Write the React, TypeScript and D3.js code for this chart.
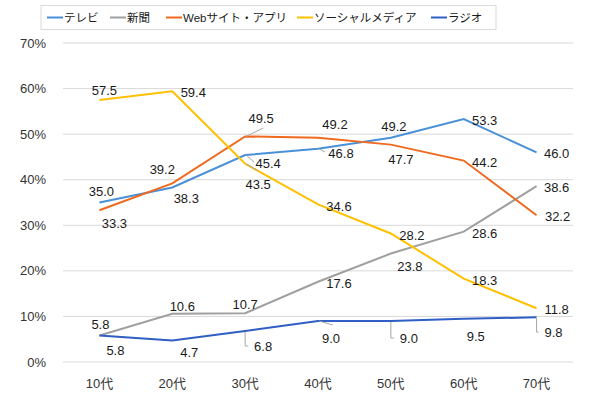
import React from "react";
import * as d3 from "d3";

const categories = ["10代", "20代", "30代", "40代", "50代", "60代", "70代"];
const seriesNames = ["テレビ", "新聞", "Webサイト・アプリ", "ソーシャルメディア", "ラジオ"];
const tvValues = [35.0, 38.3, 45.4, 46.8, 49.2, 53.3, 46.0];
const paperValues = [5.8, 10.6, 10.7, 17.6, 23.8, 28.6, 38.6];
const webValues = [33.3, 39.2, 49.5, 49.2, 47.7, 44.2, 32.2];
const socialValues = [57.5, 59.4, 43.5, 34.6, 28.2, 18.3, 11.8];
const radioValues = [5.8, 4.7, 6.8, 9.0, 9.0, 9.5, 9.8];
const yTicks = [0, 10, 20, 30, 40, 50, 60, 70];

const colors = ["#4a90d9", "#a0a0a0", "#ef6a1e", "#ffc000", "#2f5ec4"];

// label offsets (dx, dy) from the point, plus leader line kind
const labelPos: [number, number, string][][] = [
    [[2, -11.5, ""], [14, 10.5, ""], [23, 8, "d"], [23, 4.3, "d"], [3, -11, ""], [21, 1, ""], [20, 1, ""]],
    [[1, -11.6, ""], [10, -7.7, ""], [0, -9, ""], [21, 1.2, ""], [19, 12.5, ""], [21, 1.3, ""], [20, 1, ""]],
    [[15, 13, ""], [-10, -14.4, ""], [16, -18.4, "d"], [17, -13.8, ""], [10, 14.4, ""], [21, 1.4, ""], [21, 0.7, ""]],
    [[5, -10, ""], [21, 0.7, ""], [13, 21, "d"], [21, 1.7, ""], [21, 1.5, ""], [21, 1.4, ""], [20, 0.8, ""]],
    [[16, 14.4, ""], [17, 11.4, ""], [18, 15, "e"], [13, 17, "d"], [18, 17, "e"], [12, 17.3, ""], [17, 14.7, "e"]],
];
// where diagonal leader lines end, relative to label centre
const leaderEnd: Record<string, [number, number]> = {
    "0-2": [-14, -1],
    "0-3": [-16, -1],
    "2-2": [2, 10],
    "3-2": [0, -14],
    "4-3": [2, -13],
};

const font = "'Liberation Sans', Arial, 'Noto Sans CJK JP', sans-serif";

const App = () => {
    const all = [tvValues, paperValues, webValues, socialValues, radioValues];
    const x = d3.scalePoint<string>().domain(categories).range([63, 573]).padding(0.5);
    const y = d3.scaleLinear().domain([0, 70]).range([362, 43]);
    const line = d3.line<number>()
        .x((d, i) => x(categories[i]) as number)
        .y(d => y(d));

    const legendX = [47, 110, 166, 297, 431];

    return (
        <svg width={600} height={399} style={{position: "absolute", left: 0, top: 0, background: "#fff"}}
             fontFamily={font}>
            <rect x={0} y={0} width={600} height={399} fill="#fff"/>
            {/*grid*/}
            {yTicks.map(t => (
                <g key={t}>
                    <line x1={63} x2={573} y1={y(t)} y2={y(t)} stroke="#d9d9d9" strokeWidth={1}/>
                    <text x={46} y={y(t)} dy="0.35em" textAnchor="end" fontSize={13} fill="#333">{t}%</text>
                </g>
            ))}
            {categories.map(c => (
                <text key={c} x={x(c)} y={383} dy="0.35em" textAnchor="middle" fontSize={13} fill="#333">{c}</text>
            ))}
            {/*lines*/}
            {all.map((vals, si) => (
                <path key={si} d={line(vals) as string} fill="none" stroke={colors[si]} strokeWidth={2}/>
            ))}
            {/*labels*/}
            {all.map((vals, si) => vals.map((v, i) => {
                const px = x(categories[i]) as number
                const py = y(v)
                const [dx, dy, kind] = labelPos[si][i]
                const lx = px + dx
                const ly = py + dy
                const left = lx - 13
                let leader = null
                if (kind === "e") {
                    leader = <polyline points={`${px},${py + 1} ${px},${ly} ${left - 2},${ly}`} fill="none"
                                       stroke="#a6a6a6" strokeWidth={1}/>
                } else if (kind === "d") {
                    const [ex, ey] = leaderEnd[si + "-" + i]
                    leader = <line x1={px + 1} y1={py} x2={lx + ex} y2={ly + ey} stroke="#a6a6a6" strokeWidth={1}/>
                }
                return (
                    <g key={si + "-" + i}>
                        {leader}
                        <text x={lx} y={ly} dy="0.35em" textAnchor="middle" fontSize={13} fill="#1a1a1a">
                            {v.toFixed(1)}
                        </text>
                    </g>
                )
            }))}
            {/*legend*/}
            <rect x={41} y={5.5} width={455} height={24} fill="#fff" stroke="#d9d9d9" strokeWidth={1}/>
            {seriesNames.map((n, i) => (
                <g key={n}>
                    <line x1={legendX[i]} x2={legendX[i] + 16} y1={17.5} y2={17.5} stroke={colors[i]} strokeWidth={2}/>
                    <text x={legendX[i] + 17} y={17.5} dy="0.35em" fontSize={11.5} fill="#1a1a1a">{n}</text>
                </g>
            ))}
        </svg>
    );
};

export default App;
